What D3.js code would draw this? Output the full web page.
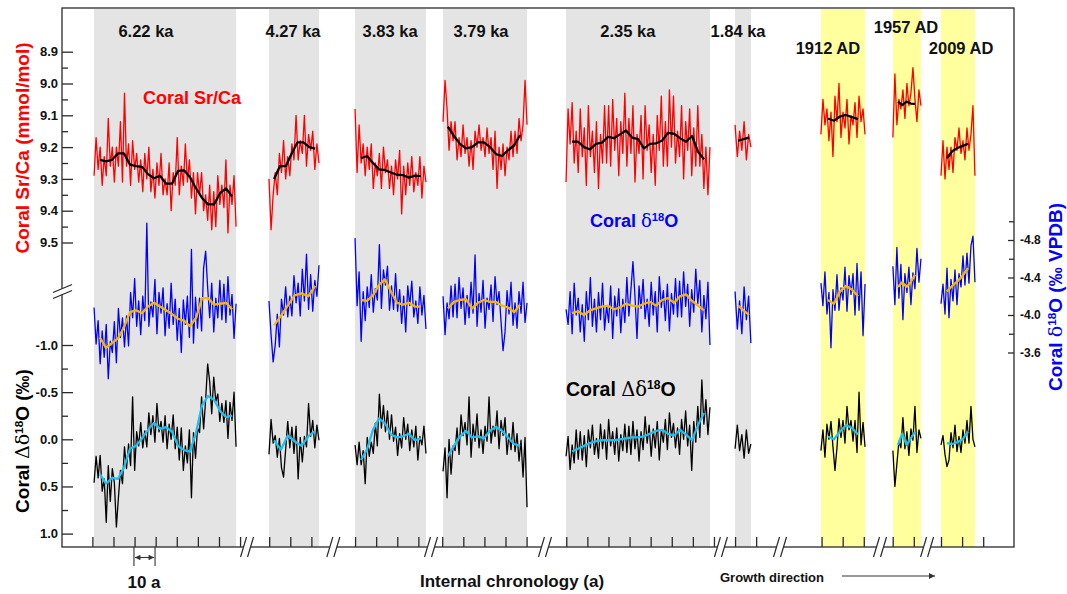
<!DOCTYPE html>
<html><head><meta charset="utf-8">
<script src="https://cdn.jsdelivr.net/npm/d3@7"></script>
<style>body{margin:0;background:#fff}svg{font-family:"Liberation Sans",Arial,sans-serif}</style>
</head><body><svg id="c" width="1067" height="594"></svg>
<script>
// ---------- DATA ----------
const segNames=["6.22 ka","4.27 ka","3.83 ka","3.79 ka","2.35 ka","1.84 ka","1912 AD","1957 AD","2009 AD"];
// internal chronology (a, composite axis with breaks)
const segStart=[15.2,98.1,138.9,180.6,238.9,319.0,359.7,393.8,416.6];
const segEnd=[82.5,121.8,172.5,220.4,307.1,326.5,380.6,407.1,432.7];
const smStart=[18.0,100.5,141.7,182.9,241.7,320.4,363.0,396.2,419.4];
const smEnd=[80.6,120.0,170.1,217.1,304.3,325.6,377.3,404.3,429.4];
const segLabelAt=[39.8,109.5,155.5,198.6,268.2,320.4,363.0,400.0,426.1];
const tickStarts=[14.4,98.2,138.9,180.2,239.0,319.0,360.0,393.7,416.6];
const tickCounts=[8,3,4,5,8,2,3,2,3];
const axisBreaks=[87.7,128.6,174.9,228.9,312.3,340.3,387.7,410.0];
const srTicks=[8.9,9.0,9.1,9.2,9.3,9.4,9.5];
const dTicks=[-1.0,-0.5,0.0,0.5,1.0];
const oTicks=[-4.8,-4.4,-4.0,-3.6];

// Coral Sr/Ca (mmol/mol): raw and smoothed
const srRaw1=[9.29,9.17,9.27,9.20,9.32,9.23,9.29,9.11,9.26,9.20,9.31,9.20,9.26,9.12,9.31,9.03,9.26,9.19,9.32,9.18,9.27,9.22,9.31,9.24,9.34,9.22,9.30,9.20,9.34,9.27,9.36,9.25,9.32,9.22,9.35,9.30,9.35,9.25,9.40,9.28,9.32,9.17,9.35,9.26,9.32,9.19,9.31,9.24,9.36,9.28,9.41,9.28,9.35,9.28,9.40,9.35,9.43,9.32,9.46,9.34,9.45,9.29,9.38,9.32,9.39,9.24,9.47,9.32,9.38,9.29,9.45];
const srSm1=[9.24,9.245,9.24,9.22,9.22,9.255,9.26,9.262,9.285,9.298,9.29,9.315,9.315,9.275,9.273,9.295,9.33,9.36,9.38,9.38,9.345,9.33,9.355];
const srRaw2=[9.30,9.46,9.35,9.28,9.35,9.22,9.28,9.18,9.30,9.23,9.29,9.19,9.24,9.10,9.24,9.18,9.22,9.10,9.26,9.16,9.21,9.15,9.27,9.19,9.25];
const srSm2=[9.30,9.26,9.26,9.22,9.185,9.185,9.20,9.205];
const srRaw3=[9.08,9.28,9.13,9.25,9.19,9.29,9.20,9.27,9.19,9.33,9.25,9.29,9.22,9.33,9.20,9.28,9.24,9.33,9.26,9.35,9.24,9.30,9.21,9.41,9.26,9.35,9.25,9.32,9.23,9.34,9.28,9.32,9.23,9.36,9.26,9.31];
const srSm3=[9.235,9.228,9.25,9.27,9.272,9.28,9.287,9.288,9.296,9.29,9.291];
const srRaw4=[9.12,8.99,9.08,9.21,9.12,9.18,9.12,9.24,9.17,9.23,9.13,9.22,9.17,9.26,9.18,9.27,9.15,9.20,9.13,9.21,9.17,9.23,9.14,9.22,9.17,9.27,9.15,9.33,9.20,9.27,9.19,9.29,9.20,9.24,9.15,9.23,9.15,9.22,9.11,9.18,9.13,8.99,9.13];
const srSm4=[9.136,9.165,9.19,9.204,9.20,9.185,9.185,9.20,9.222,9.228,9.21,9.195,9.162];
const srRaw5=[9.31,9.08,9.19,9.06,9.25,9.15,9.28,9.08,9.23,9.14,9.32,9.07,9.23,9.15,9.28,9.12,9.33,9.16,9.25,9.07,9.25,9.07,9.26,9.05,9.21,9.11,9.29,9.12,9.22,9.03,9.26,9.11,9.22,9.07,9.31,9.16,9.22,9.10,9.30,9.07,9.21,9.13,9.28,9.16,9.32,9.10,9.21,9.04,9.26,9.12,9.26,9.02,9.20,9.04,9.25,9.15,9.23,9.07,9.30,9.12,9.21,9.08,9.29,9.14,9.26,9.07,9.26,9.16,9.33,9.20,9.35,9.20];
const srSm5=[9.183,9.183,9.20,9.207,9.19,9.186,9.168,9.172,9.16,9.148,9.17,9.175,9.204,9.19,9.188,9.18,9.155,9.158,9.172,9.183,9.165,9.215,9.238];
const srRaw6=[9.13,9.23,9.15,9.21,9.12,9.24,9.16,9.20];
const srSm6=[9.18,9.175,9.17];
const srRaw7=[9.16,9.05,9.13,9.08,9.18,9.09,9.23,9.04,9.12,9.00,9.17,9.09,9.14,9.05,9.19,9.10,9.13,9.06,9.17,9.04,9.12,9.08,9.16];
const srSm7=[9.11,9.117,9.104,9.099,9.106,9.112];
const srRaw8=[9.17,8.97,9.13,9.05,9.08,9.02,9.11,9.00,9.07,9.03,8.95,9.05,9.12,9.02,9.07];
const srSm8=[9.057,9.068,9.057,9.063,9.064];
const srRaw9=[9.29,9.18,9.30,9.20,9.27,9.20,9.28,9.17,9.21,9.14,9.22,9.18,9.24,9.14,9.21,9.16,9.07,9.29];
const srSm9=[9.235,9.213,9.203,9.196,9.19];

// Coral d18O (permil VPDB): raw and smoothed
const oRaw1=[-4.08,-3.69,-3.94,-3.48,-3.83,-3.55,-3.90,-3.32,-3.72,-3.60,-3.93,-3.49,-4.07,-3.76,-3.97,-3.66,-3.99,-3.67,-4.24,-3.97,-4.39,-3.88,-4.15,-3.79,-4.20,-3.94,-4.98,-3.88,-4.14,-3.98,-4.38,-3.80,-4.24,-4.02,-4.29,-3.78,-4.12,-3.86,-4.34,-3.90,-4.17,-3.73,-4.07,-3.60,-4.16,-3.90,-4.20,-3.76,-4.70,-3.70,-4.19,-3.86,-4.18,-3.83,-4.50,-4.68,-4.29,-3.97,-4.34,-3.82,-4.18,-3.97,-4.37,-3.95,-4.33,-3.92,-4.41,-4.00,-4.22,-3.75,-4.12];
const oSm1=[-3.76,-3.65,-3.70,-3.75,-3.87,-4.03,-4.05,-4.02,-4.09,-4.13,-4.09,-4.05,-4.01,-3.96,-3.94,-3.88,-3.97,-4.18,-4.18,-4.11,-4.12,-4.13,-4.06];
const oRaw2=[-4.15,-3.79,-3.50,-3.68,-4.01,-3.66,-4.17,-4.00,-4.30,-3.98,-4.20,-3.99,-4.42,-4.13,-4.34,-3.99,-4.49,-4.15,-4.65,-4.06,-4.43,-4.04,-4.37,-4.20,-4.53];
const oSm2=[-3.89,-3.99,-4.10,-4.21,-4.23,-4.20,-4.31];
const oRaw3=[-4.82,-4.10,-4.46,-3.72,-4.25,-3.94,-4.30,-4.08,-4.43,-4.03,-4.28,-4.16,-4.75,-4.07,-4.48,-4.32,-4.52,-4.05,-4.31,-4.06,-4.44,-4.04,-4.27,-3.91,-4.20,-3.82,-4.31,-4.10,-4.36,-3.98,-4.15,-3.91,-4.30,-4.00,-4.21,-3.85];
const oSm3=[-4.16,-4.15,-4.21,-4.32,-4.38,-4.25,-4.13,-4.11,-4.13,-4.09,-4.09];
const oRaw4=[-4.20,-3.79,-4.13,-3.96,-4.31,-3.98,-4.33,-3.97,-4.40,-4.07,-4.29,-3.90,-4.21,-3.97,-4.35,-4.02,-4.64,-3.88,-4.23,-4.03,-4.37,-3.86,-4.18,-4.06,-4.32,-3.93,-4.41,-4.11,-4.25,-3.93,-3.62,-3.82,-4.26,-4.01,-4.35,-3.89,-4.13,-3.86,-4.25,-4.02,-4.35,-3.92,-4.13];
const oSm4=[-4.07,-4.14,-4.16,-4.17,-4.07,-4.13,-4.16,-4.14,-4.14,-4.10,-4.08,-4.03,-4.11];
const oRaw5=[-4.06,-3.90,-4.25,-3.80,-4.34,-4.00,-4.18,-3.82,-4.11,-3.72,-4.25,-3.95,-4.40,-3.88,-4.17,-3.82,-4.24,-3.95,-4.34,-3.84,-4.10,-3.92,-4.31,-3.75,-4.20,-3.99,-4.28,-3.81,-4.17,-3.92,-4.40,-3.99,-4.27,-4.57,-4.20,-3.75,-4.31,-4.07,-4.38,-3.96,-4.17,-3.88,-4.35,-4.00,-4.25,-3.82,-4.41,-4.08,-4.26,-3.94,-4.33,-3.83,-4.23,-4.01,-4.39,-3.98,-4.36,-3.98,-4.46,-4.09,-4.33,-3.88,-4.27,-4.03,-4.49,-4.12,-4.37,-3.82,-4.21,-3.96,-4.35,-3.68];
const oSm5=[-4.02,-4.04,-4.00,-4.05,-4.07,-4.09,-4.10,-4.06,-4.08,-4.12,-4.10,-4.09,-4.12,-4.14,-4.10,-4.16,-4.18,-4.13,-4.20,-4.22,-4.15,-4.10,-4.05];
const oRaw6=[-4.25,-3.85,-4.15,-3.80,-4.30,-3.95,-4.20,-3.70];
const oSm6=[-4.10,-4.05,-4.00];
const oRaw7=[-4.34,-4.10,-4.46,-4.01,-4.24,-3.65,-4.27,-4.05,-4.43,-4.05,-4.29,-4.16,-4.51,-4.04,-4.42,-4.22,-4.44,-4.00,-4.55,-4.05,-4.46,-3.78,-4.33];
const oSm7=[-4.16,-4.12,-4.25,-4.31,-4.27,-4.20];
const oRaw8=[-4.52,-4.11,-4.72,-4.18,-4.54,-3.95,-4.44,-4.24,-4.51,-4.11,-4.45,-4.28,-4.71,-4.35,-4.60];
const oSm8=[-4.30,-4.35,-4.30,-4.35,-4.43];
const oRaw9=[-4.12,-4.33,-4.01,-4.50,-3.97,-4.38,-4.15,-4.48,-4.11,-4.44,-4.30,-4.63,-4.32,-4.66,-4.34,-4.74,-4.84,-4.35];
const oSm9=[-4.25,-4.31,-4.36,-4.42,-4.50];

// Coral Delta-d18O (permil): raw and smoothed
const dRaw1=[0.46,0.18,0.41,0.17,0.55,0.42,0.88,0.28,0.66,0.31,0.46,0.93,0.62,0.33,0.47,0.08,0.31,0.05,0.28,-0.45,0.33,-0.08,0.07,-0.18,0.09,-0.09,0.08,-0.28,-0.05,-0.25,0.03,-0.38,-0.08,-0.19,0.03,-0.25,0.10,-0.16,0.00,-0.26,0.10,-0.13,0.22,-0.12,0.33,0.07,0.25,-0.10,0.62,-0.07,0.20,-0.12,-0.07,-0.45,-0.11,-0.42,-0.80,-0.61,-0.27,-0.66,-0.40,-0.48,-0.19,-0.38,-0.18,-0.41,-0.01,-0.39,-0.20,-0.50,0.08];
const dSm1=[0.37,0.47,0.41,0.42,0.30,0.10,0.07,-0.01,-0.10,-0.175,-0.11,-0.13,-0.08,0.07,0.115,0.13,-0.07,-0.36,-0.46,-0.42,-0.30,-0.235,-0.25];
const dRaw2=[0.16,-0.21,0.04,-0.04,0.19,-0.01,0.30,0.40,0.11,-0.19,0.09,-0.13,0.15,-0.14,0.42,-0.02,0.24,-0.03,0.08,-0.38,-0.03,-0.20,0.09,-0.15,0.01];
const dSm2=[0.01,0.11,-0.04,0.02,0.07,-0.03,-0.09];
const dRaw3=[0.06,0.27,0.03,0.27,0.12,0.47,-0.02,0.18,0.03,0.15,-0.17,0.07,-0.48,-0.12,-0.36,-0.08,-0.30,0.00,-0.26,0.02,-0.13,0.17,-0.06,0.09,-0.23,0.00,-0.16,0.12,-0.10,0.08,-0.14,0.22,-0.03,0.06,-0.14,0.15];
const dSm3=[0.22,0.11,-0.10,-0.22,-0.17,-0.05,-0.02,-0.03,-0.06,0.01,-0.01];
const dRaw4=[0.34,0.09,0.62,0.00,0.37,0.07,0.12,-0.12,0.16,-0.26,-0.04,-0.18,0.06,-0.45,0.19,-0.16,0.02,-0.27,0.09,-0.10,0.15,-0.14,0.02,-0.45,0.04,-0.14,-0.03,-0.30,0.10,-0.20,-0.04,-0.23,0.16,-0.06,0.11,-0.18,0.13,-0.06,0.23,0.01,0.40,-0.02,0.72];
const dSm4=[0.18,0.07,-0.03,-0.09,-0.02,-0.03,-0.01,-0.09,-0.13,-0.09,-0.02,0.05,0.07];
const dRaw5=[0.18,-0.03,0.32,0.06,0.25,-0.10,0.21,-0.08,0.22,-0.04,0.29,-0.10,0.09,-0.15,0.16,-0.01,0.20,-0.16,0.10,-0.10,0.21,-0.21,0.07,-0.08,0.16,-0.12,0.23,-0.05,0.12,-0.16,0.14,-0.14,0.16,-0.19,0.10,-0.10,0.23,-0.08,0.11,-0.24,0.04,-0.15,0.18,-0.11,0.09,-0.19,0.22,-0.10,0.03,-0.21,0.11,-0.28,-0.02,-0.17,0.09,-0.12,0.16,-0.21,0.00,-0.30,0.07,-0.15,0.33,-0.19,0.03,-0.35,-0.02,-0.63,-0.16,-0.42,-0.05,-0.34];
const dSm5=[0.13,0.10,0.07,0.04,0.02,0.01,0.01,0.01,0.00,-0.01,-0.02,-0.02,-0.03,-0.06,-0.09,-0.10,-0.06,-0.04,-0.10,-0.05,0.01,-0.15,-0.28];
const dRaw6=[0.10,-0.15,0.12,-0.05,0.20,-0.10,0.15,0.05];
const dSm6=[];
const dRaw7=[0.12,-0.10,0.19,-0.16,0.00,-0.19,0.08,0.33,0.09,-0.22,-0.02,-0.20,0.04,-0.35,-0.10,-0.20,0.02,-0.20,0.14,-0.50,0.06,-0.18,0.08];
const dSm7=[-0.03,0.00,-0.08,-0.15,-0.12,-0.05];
const dRaw8=[0.12,0.50,0.26,0.02,0.09,-0.23,0.10,-0.08,0.17,-0.11,0.01,-0.35,0.14,-0.10,-0.01];
const dSm8=[0.06,-0.06,0.06,-0.01,-0.08];
const dRaw9=[0.06,-0.04,0.16,0.29,0.22,-0.07,0.09,-0.15,0.13,-0.03,0.14,-0.10,0.04,-0.20,0.04,-0.35,0.00,0.08];
const dSm9=[0.04,0.05,0.03,0.00,-0.08];

const srRaw=[srRaw1,srRaw2,srRaw3,srRaw4,srRaw5,srRaw6,srRaw7,srRaw8,srRaw9];
const srSm=[srSm1,srSm2,srSm3,srSm4,srSm5,srSm6,srSm7,srSm8,srSm9];
const oRaw=[oRaw1,oRaw2,oRaw3,oRaw4,oRaw5,oRaw6,oRaw7,oRaw8,oRaw9];
const oSm=[oSm1,oSm2,oSm3,oSm4,oSm5,oSm6,oSm7,oSm8,oSm9];
const dRaw=[dRaw1,dRaw2,dRaw3,dRaw4,dRaw5,dRaw6,dRaw7,dRaw8,dRaw9];
const dSm=[dSm1,dSm2,dSm3,dSm4,dSm5,dSm6,dSm7,dSm8,dSm9];

// ---------- LAYOUT ----------
const L=62,R=1014,T=8,B=547;
const svg=d3.select("#c");
const x=d3.scaleLinear().domain([0,451.2]).range([L,R]);
const ySr=d3.scaleLinear().domain([8.9,9.5]).range([51.7,242.5]);
const yO=d3.scaleLinear().domain([-4.8,-3.6]).range([240,352.5]);
const yD=d3.scaleLinear().domain([-1,1]).range([345,533.6]);
const AX="#2a2a2a";

segNames.forEach((n,i)=>{
  svg.append("rect").attr("x",x(segStart[i])).attr("y",T+1)
    .attr("width",x(segEnd[i])-x(segStart[i])).attr("height",B-T-1)
    .attr("fill",n.endsWith("AD")?"#ffff9e":"#e4e4e4");
});

function series(arr,t0,t1,y,color,w){
  if(!arr.length) return;
  const n=arr.length;
  const line=d3.line().x((d,i)=>x(t0+i*(t1-t0)/(n-1))).y(d=>y(d));
  svg.append("path").attr("d",line(arr)).attr("fill","none").attr("stroke",color)
    .attr("stroke-width",w).attr("stroke-linejoin","round");
}
for(let i=0;i<9;i++){
  series(srRaw[i],segStart[i],segEnd[i],ySr,"#ff0000",1.3);
  series(oRaw[i],segStart[i],segEnd[i],yO,"#0000ff",1.3);
  series(dRaw[i],segStart[i],segEnd[i],yD,"#000000",1.3);
}
for(let i=0;i<9;i++){
  series(srSm[i],smStart[i],smEnd[i],ySr,"#000000",2.3);
  series(oSm[i],smStart[i],smEnd[i],yO,"#f5b800",2.3);
  series(dSm[i],smStart[i],smEnd[i],yD,"#1ec0ee",2.3);
}

svg.append("rect").attr("x",L).attr("y",T).attr("width",R-L).attr("height",B-T)
  .attr("fill","none").attr("stroke",AX).attr("stroke-width",1.3);

const fmt=v=>v.toFixed(1);
function styleAxis(g,size){
  g.select(".domain").remove();
  g.selectAll("line").attr("stroke",AX).attr("stroke-width",1.3);
  g.selectAll("text").attr("font-size",size).attr("font-weight","bold").attr("fill","#111")
   .attr("font-family","'Liberation Sans',Arial,sans-serif");
}
let g=svg.append("g").attr("transform",`translate(${L},0)`)
  .call(d3.axisLeft(ySr).tickValues(srTicks).tickSize(-11).tickPadding(4).tickFormat(fmt));
styleAxis(g,13);
g=svg.append("g").attr("transform",`translate(${L},0)`)
  .call(d3.axisLeft(ySr).tickValues(srTicks.slice(0,-1).map(v=>v+0.05)).tickSize(-6).tickFormat(""));
styleAxis(g,13);
g=svg.append("g").attr("transform",`translate(${L},0)`)
  .call(d3.axisLeft(yD).tickValues(dTicks).tickSize(-11).tickPadding(4).tickFormat(fmt));
styleAxis(g,13);
g=svg.append("g").attr("transform",`translate(${L},0)`)
  .call(d3.axisLeft(yD).tickValues(dTicks.slice(0,-1).map(v=>v+0.25)).tickSize(-6).tickFormat(""));
styleAxis(g,13);
g=svg.append("g").attr("transform",`translate(${R},0)`)
  .call(d3.axisRight(yO).tickValues(oTicks).tickSize(-6).tickPadding(6).tickFormat(fmt));
styleAxis(g,12);
g=svg.append("g").attr("transform",`translate(${R},0)`)
  .call(d3.axisRight(yO).tickValues([-5.0,-4.6,-4.2,-3.8]).tickSize(-5).tickFormat(""));
styleAxis(g,12);
const bt=[];tickStarts.forEach((s,i)=>{for(let k=0;k<tickCounts[i];k++)bt.push(s+10*k);});
g=svg.append("g").attr("transform",`translate(0,${B})`)
  .call(d3.axisBottom(x).tickValues(bt).tickSize(-10).tickFormat(""));
styleAxis(g,12);

axisBreaks.forEach(b=>{
  const cx=x(b);
  svg.append("rect").attr("x",cx-3.5).attr("y",B-2).attr("width",7).attr("height",4).attr("fill","#fff");
  [-3.5,3.5].forEach(o=>svg.append("line").attr("x1",cx+o-3).attr("y1",B+10).attr("x2",cx+o+3).attr("y2",B-10)
    .attr("stroke",AX).attr("stroke-width",1.2));
});
svg.append("rect").attr("x",L-2).attr("y",288.5).attr("width",4).attr("height",6).attr("fill","#fff");
[288.5,294.5].forEach(yy=>svg.append("line").attr("x1",L-9).attr("y1",yy+4).attr("x2",L+10).attr("y2",yy-4)
  .attr("stroke",AX).attr("stroke-width",1.2));

const labelY={"1912 AD":54,"1957 AD":33,"2009 AD":54};
segNames.forEach((n,i)=>{
  svg.append("text").attr("x",x(segLabelAt[i])).attr("y",labelY[n]||37).attr("text-anchor","middle")
    .attr("font-size",16.5).attr("font-weight","bold").attr("fill","#111").text(n);
});

svg.append("text").attr("x",143).attr("y",104).attr("font-size",18).attr("font-weight","bold")
  .attr("fill","#ff0000").text("Coral Sr/Ca");
function isoLabel(sel,delta){
  sel.append("tspan").text("Coral ");
  sel.append("tspan").attr("font-weight","normal").attr("font-family","'DejaVu Serif',serif").text(delta);
  sel.append("tspan").attr("font-size","0.62em").attr("dy","-0.55em").text("18");
  sel.append("tspan").attr("dy","0.34em").text("O");
}
let t=svg.append("text").attr("x",590).attr("y",227).attr("font-size",18).attr("font-weight","bold").attr("fill","#0000ff");
isoLabel(t,"δ");
t=svg.append("text").attr("x",566).attr("y",396).attr("font-size",19.5).attr("font-weight","bold").attr("fill","#000");
isoLabel(t,"Δδ");

svg.append("text").attr("transform","translate(29,148) rotate(-90)").attr("text-anchor","middle")
  .attr("font-size",19).attr("font-weight","bold").attr("fill","#ff0000").text("Coral Sr/Ca (mmol/mol)");
t=svg.append("text").attr("transform","translate(29,441) rotate(-90)").attr("text-anchor","middle")
  .attr("font-size",19).attr("font-weight","bold").attr("fill","#000");
isoLabel(t,"Δδ"); t.append("tspan").text(" (‰)");
t=svg.append("text").attr("transform","translate(1062,297) rotate(-90)").attr("text-anchor","middle")
  .attr("font-size",19).attr("font-weight","bold").attr("fill","#0000ff");
isoLabel(t,"δ"); t.append("tspan").text(" (‰ VPDB)");

svg.append("text").attr("x",512).attr("y",587).attr("text-anchor","middle").attr("font-size",17)
  .attr("font-weight","bold").attr("fill","#111").text("Internal chronology (a)");
svg.append("text").attr("x",144).attr("y",588).attr("text-anchor","middle").attr("font-size",17)
  .attr("font-weight","bold").attr("fill","#111").text("10 a");
svg.append("text").attr("x",720).attr("y",582).attr("font-size",13)
  .attr("font-weight","bold").attr("fill","#111").text("Growth direction");
const defs=svg.append("defs");
defs.append("marker").attr("id","ah").attr("viewBox","0 0 10 10").attr("refX",10).attr("refY",5)
  .attr("markerWidth",7).attr("markerHeight",5).attr("orient","auto-start-reverse")
  .append("path").attr("d","M0,0L10,5L0,10z").attr("fill","#333");
svg.append("line").attr("x1",842).attr("y1",576).attr("x2",935).attr("y2",576)
  .attr("stroke","#333").attr("stroke-width",1.2).attr("marker-end","url(#ah)");
const s0=x(34.1),s1=x(44.1);
[s0,s1].forEach(sx=>svg.append("line").attr("x1",sx).attr("x2",sx).attr("y1",B).attr("y2",566)
  .attr("stroke","#333").attr("stroke-width",1.1));
svg.append("line").attr("x1",s0+1).attr("x2",s1-1).attr("y1",557.5).attr("y2",557.5)
  .attr("stroke","#333").attr("stroke-width",1.1).attr("marker-end","url(#ah)").attr("marker-start","url(#ah)");
</script></body></html>
